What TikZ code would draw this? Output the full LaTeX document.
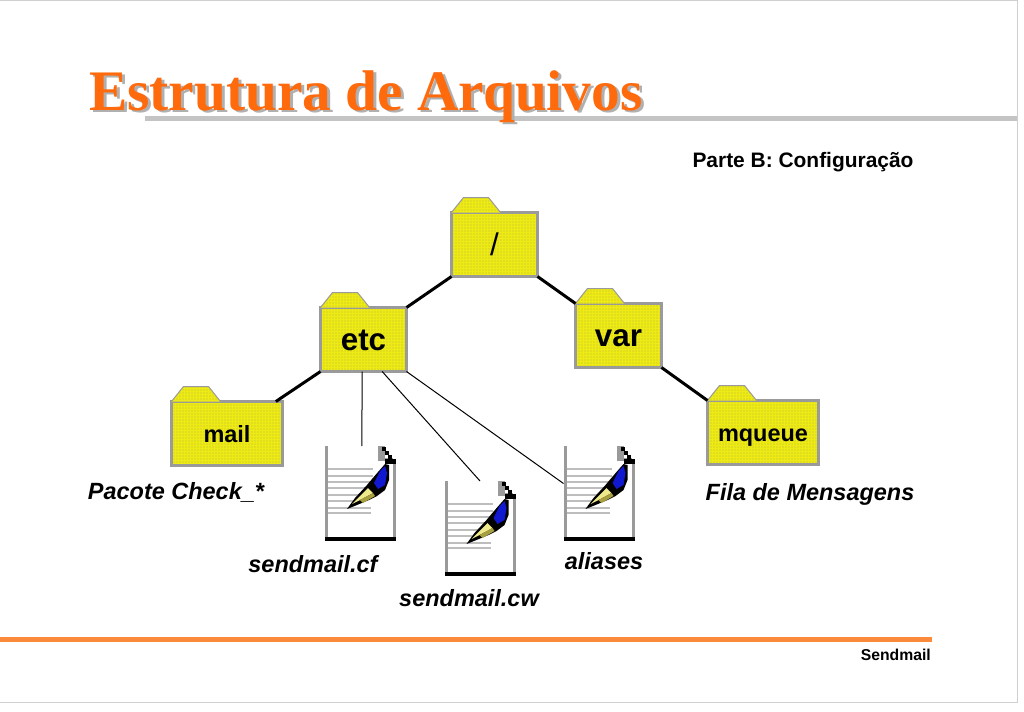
\documentclass[tikz,border=0pt]{standalone}
\usepackage{fontspec}
\setmainfont{Liberation Sans}
\newfontfamily\titlefont{Liberation Serif}
\usepackage{xcolor}
\usetikzlibrary{positioning,patterns.meta}
\definecolor{titleorange}{HTML}{FF6A0D}
\definecolor{shadowgray}{HTML}{B0B0B0}
\definecolor{ruleorange}{HTML}{FB8A3A}
\definecolor{rulegray}{HTML}{C4C4C4}
\definecolor{framegray}{HTML}{D0D0D0}
\definecolor{folderyellow}{HTML}{EEEA14}
\definecolor{folderdot}{HTML}{B8B840}
\definecolor{foldergray}{HTML}{9A9A9A}
\definecolor{penblue}{HTML}{1018D0}
\definecolor{penyellow}{HTML}{EEE98A}
\definecolor{penolive}{HTML}{A8A040}
\newcommand{\shadowtitle}[1]{\rlap{\kern2.2pt\raisebox{-2.2pt}{\textcolor{shadowgray}{#1}}}\textcolor{titleorange}{#1}}
\tikzset{
	dotted fill/.style={preaction={fill=folderyellow},pattern={Dots[distance=2.25pt,radius=0.4pt]},pattern color=folderdot},
	folderbox/.style={draw=foldergray,line width=2.25pt,dotted fill,outer sep=0pt,inner sep=0pt,
		minimum width=64.5pt,minimum height=48pt,text height=16.5pt,text depth=0pt,
		font=\bfseries\fontsize{23.5pt}{25pt}\selectfont},
	widefolder/.style={folderbox,minimum width=83.25pt,text height=12.75pt,font=\bfseries\fontsize{17.6pt}{19pt}\selectfont},
	foldertab/.style={draw=foldergray,line width=0.75pt,dotted fill},
	filebox/.style={outer sep=0pt,inner sep=0pt,minimum width=53.25pt,minimum height=71.25pt},
	biglink/.style={line width=2.25pt},
	thinlink/.style={line width=0.75pt},
	caption/.style={font=\bfseries\itshape\fontsize{17.6pt}{19pt}\selectfont},
	pics/fileicon/.style={code={
		\fill[foldergray] (0,0) rectangle (3,95);
		\fill[foldergray] (68,17) rectangle (71,91);
		\fill[black] (0,91) rectangle (71,95);
		\foreach \ypos/\xend in {23/48,30/48,36/48,42/42,49/37,55/30,62/46,67/46}
			\draw[foldergray!65,line width=1.2pt] (3,\ypos) -- (\xend,\ypos);
		\fill[foldergray] (53,0) rectangle (60,15);
		\fill[foldergray] (60,12) rectangle (68,15);
		\fill[black] (57,1) rectangle (61,5);
		\fill[black] (60,5) rectangle (64,9);
		\fill[black] (63,9) rectangle (67,13);
		\fill[black] (60,13) rectangle (71,18);
		\fill[black] (22,63) -- (30,52) -- (42,39) -- (47,33) -- (53,26) -- (60,18) -- (64,19) -- (64,34) -- (60,44) -- (52,50) -- (44,54) -- (32,59) -- cycle;
		\fill[penblue] (60,20) -- (62,27) -- (60,39) -- (53,43) -- (49,37) -- (52,31) -- (55,25) -- cycle;
		\fill[penyellow] (27,58) -- (43,42) -- (48,47) -- (35,54) -- cycle;
		\fill[penolive] (35,54) -- (48,47) -- (50,50) -- (38,57) -- cycle;
	}}
}
\begin{document}
\begin{tikzpicture}[x=0.75pt,y=-0.75pt]
	\useasboundingbox (0,0) rectangle (1024,711);
	\fill[white] (0,0) rectangle (1024,711);
	\draw[framegray,line width=0.75pt] (0,0.5) -- (1017,0.5) -- (1017,702) -- (0,702);

	\fill[rulegray] (145,116) rectangle (1017,121);
	\fill[ruleorange] (0,637) rectangle (932,642);

	\node[anchor=base west,inner sep=0pt,font=\titlefont\bfseries\fontsize{43pt}{46pt}\selectfont] (title) at (89,110) {\shadowtitle{Estrutura de Arquivos}};
	\node[font=\bfseries\fontsize{15.7pt}{17pt}\selectfont] (part) at (803,162) {Parte B: Configuração};
	\node[anchor=east,inner sep=0pt,font=\bfseries\fontsize{11.8pt}{13pt}\selectfont] (footer) at (931,655) {Sendmail};

	\node[folderbox,font=\fontsize{23.5pt}{25pt}\selectfont] (root) at (494.5,244.5) {/};
	\node[folderbox] (etc) at (363.5,339.5) {etc};
	\node[folderbox] (var) at (618.5,335.5) {var};
	\node[widefolder] (mail) at (227,433.5) {mail};
	\node[widefolder] (mqueue) at (763,432.5) {mqueue};

	\foreach \fname in {root,etc,var,mail,mqueue}
		\draw[foldertab] (\fname.north west) -- ++(12,-15) -- ++(25,0) -- ++(12,15);

	\node[filebox] (cf) at (360.5,493.5) {};
	\node[filebox] (cw) at (480,528.5) {};
	\node[filebox] (aliases) at (599,493.5) {};
	\foreach \fname in {cf,cw,aliases}
		\pic at (\fname.north west) {fileicon};

	\draw[biglink] (root.south west) -- (etc.north east);
	\draw[biglink] (root.south east) -- (var.north west);
	\draw[biglink] (etc.south west) -- ([xshift=-5pt]mail.north east);
	\draw[biglink] (var.south east) -- (mqueue.north west);
	\draw[thinlink] ([xshift=-1pt]etc.south) -- ([xshift=1pt]cf.north);
	\draw[thinlink] ([xshift=14pt]etc.south) -- (cw.north);
	\draw[thinlink] (etc.south east) -- ([yshift=7.5pt]aliases.west);

	\node[caption] (checklabel) at (176,492) {Pacote Check\_*};
	\node[caption] (filalabel) at (810,494) {Fila de Mensagens};
	\node[caption] (cflabel) at (313,564) {sendmail.cf};
	\node[caption] (cwlabel) at (469,598) {sendmail.cw};
	\node[caption] (aliaslabel) at (604,561) {aliases};
\end{tikzpicture}
\end{document}
